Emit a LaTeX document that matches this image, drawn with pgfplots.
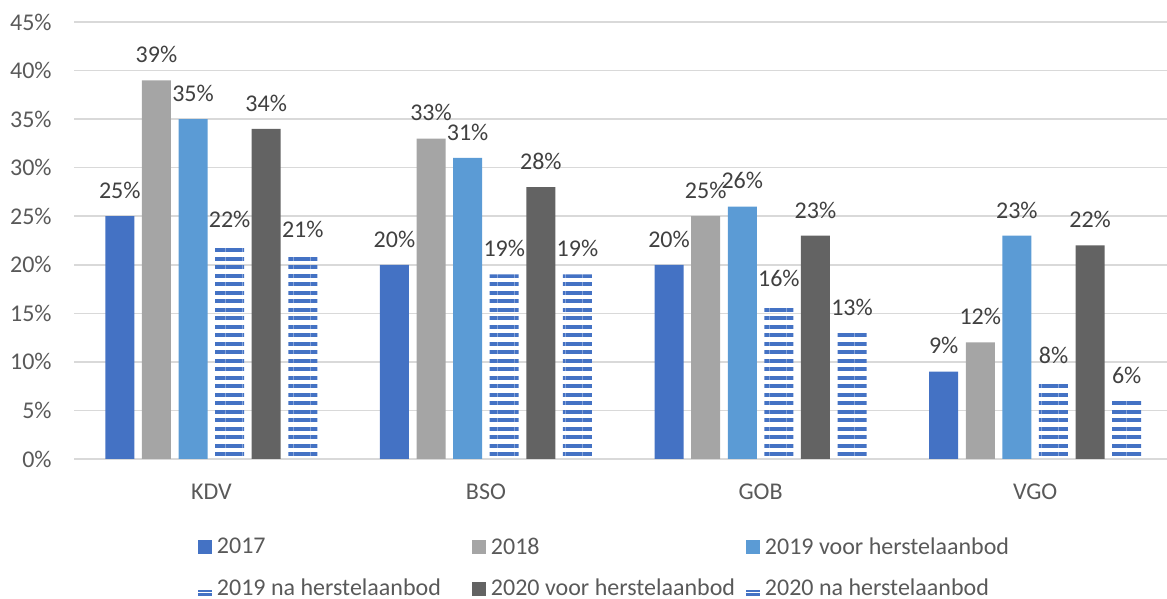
\documentclass[border=0pt]{standalone}
\usepackage{pgfplots}
\pgfplotsset{compat=1.18}
\usepackage{fontspec}
\setmainfont{Carlito}
\usetikzlibrary{patterns.meta}
\definecolor{cA}{HTML}{4472C4}
\definecolor{cB}{HTML}{A5A5A5}
\definecolor{cC}{HTML}{5B9BD5}
\definecolor{cD}{HTML}{636363}
\definecolor{gridc}{HTML}{D9D9D9}
\definecolor{tickc}{HTML}{595959}
\definecolor{labc}{HTML}{404040}
\begin{document}
\begin{tikzpicture}[font=\fontsize{12}{14}\selectfont]
\begin{axis}[
  /pgf/number format/assume math mode=true,
  scale only axis, width=546.5pt, height=218.5pt,
  at={(0,0)}, anchor=south west,
  ybar=3.8pt, bar width=14.5pt,
  xmin=-0.5, xmax=3.48, ymin=0, ymax=45,
  xtick={0,1,2,3}, xticklabels={KDV,BSO,GOB,VGO},
  ytick={0,5,...,45},
  yticklabel={\pgfmathprintnumber{\tick}\%},
  ymajorgrids, grid style={gridc, line width=0.75pt},
  axis line style={draw=none},
  major tick length=0pt,
  tick label style={color=tickc, font=\fontsize{12}{14}\selectfont},
  yticklabel style={anchor=east, inner sep=0pt, xshift=-11pt},
  xticklabel style={anchor=base, inner sep=0pt, yshift=-20pt},
  nodes near coords={\pgfmathprintnumber{\pgfplotspointmeta}\%},
  every node near coord/.append style={color=labc, anchor=south, inner sep=0pt, yshift=8.5pt, font=\fontsize{12}{14}\selectfont},
  legend columns=3, legend cell align=left,
  legend style={draw=none, fill=none, at={(axis description cs:0.1134,-0.18)}, anchor=north west,
    inner sep=0pt, outer sep=0pt, column sep=2.5pt, row sep=11pt,
    nodes={inner sep=0pt, text=tickc, font=\fontsize{12}{14}\selectfont}},
]
\addplot[fill=cA, draw=none, legend image code/.code={\fill[cA] (0pt,-3.5pt) rectangle (7pt,3.5pt);}]
  coordinates {(0,25) (1,20) (2,20) (3,9)};
\addlegendentry{\makebox[125pt][l]{2017}}
\addplot[fill=cB, draw=none, legend image code/.code={\fill[cB] (0pt,-3.5pt) rectangle (7pt,3.5pt);}]
  coordinates {(0,39) (1,33) (2,25) (3,12)};
\addlegendentry{\makebox[125pt][l]{2018}}
\addplot[fill=cC, draw=none, legend image code/.code={\fill[cC] (0pt,-3.5pt) rectangle (7pt,3.5pt);}]
  coordinates {(0,35) (1,31) (2,26) (3,23)};
\addlegendentry{\makebox[125pt][l]{2019 voor herstelaanbod}}
\addplot[draw=none, pattern={Lines[angle=0,distance=4.25pt,line width=2pt]}, pattern color=cA,
  legend image code/.code={\fill[cA] (0pt,-0.2pt) rectangle (7pt,-1.3pt); \fill[cA] (0pt,-2pt) rectangle (7pt,-3.5pt);}]
  coordinates {(0,22) (1,19) (2,16) (3,8)};
\addlegendentry{\makebox[125pt][l]{2019 na herstelaanbod}}
\addplot[fill=cD, draw=none, legend image code/.code={\fill[cD] (0pt,-3.5pt) rectangle (7pt,3.5pt);}]
  coordinates {(0,34) (1,28) (2,23) (3,22)};
\addlegendentry{\makebox[125pt][l]{2020 voor herstelaanbod}}
\addplot[draw=none, pattern={Lines[angle=0,distance=4.25pt,line width=2pt]}, pattern color=cA,
  legend image code/.code={\fill[cA] (0pt,-0.2pt) rectangle (7pt,-1.3pt); \fill[cA] (0pt,-2pt) rectangle (7pt,-3.5pt);}]
  coordinates {(0,21) (1,19) (2,13) (3,6)};
\addlegendentry{\makebox[125pt][l]{2020 na herstelaanbod}}
\end{axis}
\pgfresetboundingbox
\path[use as bounding box] (-37pt,-70pt) rectangle (546.5pt,229.5pt);
\end{tikzpicture}
\end{document}
